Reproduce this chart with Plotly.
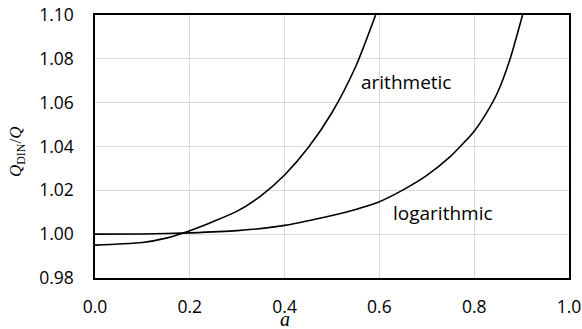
import plotly.graph_objects as go

# Arithmetic curve
a_arith = [0.0, 0.05, 0.10, 0.15, 0.20, 0.25, 0.30, 0.35, 0.40, 0.45, 0.50, 0.55, 0.592]
q_arith = [0.995, 0.9955, 0.9962, 0.9982, 1.0016, 1.0058, 1.0105, 1.0175, 1.0270, 1.0395, 1.0555, 1.0765, 1.100]

# Logarithmic curve
a_log = [0.0, 0.1, 0.2, 0.3, 0.4, 0.5, 0.55, 0.6, 0.65, 0.7, 0.75, 0.775, 0.8, 0.825, 0.85, 0.875, 0.902]
q_log = [1.000, 1.0001, 1.0006, 1.0016, 1.0040, 1.0085, 1.0113, 1.0148, 1.0202, 1.0268, 1.0355, 1.041, 1.047, 1.055, 1.065, 1.0795, 1.100]

x_ticks = [0.0, 0.2, 0.4, 0.6, 0.8, 1.0]
x_ticklabels = ["0.0", "0.2", "0.4", "0.6", "0.8", "1.0"]
y_ticks = [0.98, 1.00, 1.02, 1.04, 1.06, 1.08, 1.10]
y_ticklabels = ["0.98", "1.00", "1.02", "1.04", "1.06", "1.08", "1.10"]

fig = go.Figure()
fig.add_trace(go.Scatter(x=a_arith, y=q_arith, mode="lines",
                         line=dict(color="black", width=1.6, shape="spline", smoothing=0.7),
                         showlegend=False, hoverinfo="skip"))
fig.add_trace(go.Scatter(x=a_log, y=q_log, mode="lines",
                         line=dict(color="black", width=1.6, shape="spline", smoothing=0.7),
                         showlegend=False, hoverinfo="skip"))

tickfont = dict(family="Open Sans", size=17.5, color="black")
fig.update_xaxes(range=[0, 1], tickvals=x_ticks, ticktext=x_ticklabels,
                 showgrid=True, gridcolor="#d9d9d9", gridwidth=1,
                 showline=True, linecolor="black", linewidth=1.5, mirror=True,
                 ticks="outside", ticklen=12, tickcolor="rgba(0,0,0,0)",
                 tickfont=tickfont, zeroline=False, automargin=False,
                 ticklabeloverflow="allow")
fig.update_yaxes(range=[0.98, 1.10], tickvals=y_ticks, ticktext=y_ticklabels,
                 showgrid=True, gridcolor="#d9d9d9", gridwidth=1,
                 showline=True, linecolor="black", linewidth=1.5, mirror=True,
                 ticks="outside", ticklen=16, tickcolor="rgba(0,0,0,0)",
                 tickfont=tickfont, zeroline=False, automargin=False,
                 ticklabeloverflow="allow")

fig.add_annotation(x=0.656, y=1.0694, xref="x", yref="y", text="arithmetic",
                   showarrow=False, font=dict(family="Open Sans", size=19, color="black"))
fig.add_annotation(x=0.734, y=1.0097, xref="x", yref="y", text="logarithmic",
                   showarrow=False, font=dict(family="Open Sans", size=19, color="black"))
fig.add_annotation(x=0, y=0.479, xref="paper", yref="paper", xshift=-78,
                   xanchor="center", yanchor="middle",
                   text="<i>Q</i><sub>DIN</sub>/<i>Q</i>", textangle=-90, showarrow=False,
                   font=dict(family="Liberation Serif", size=17, color="black"))
fig.add_annotation(x=0.4, y=0, xref="x", yref="paper", yshift=-41,
                   xanchor="center", yanchor="middle",
                   text="<i>a</i>", showarrow=False,
                   font=dict(family="Liberation Serif", size=20, color="black"))

fig.update_layout(width=582, height=329, margin=dict(l=95, r=13, t=15, b=51),
                  paper_bgcolor="white", plot_bgcolor="white")
# remove the browser's default 8px body margin so the figure fills the window exactly
fig.write_html("out.html", config={"displayModeBar": False},
               post_script="document.body.style.margin='0';document.body.style.overflow='hidden';")
